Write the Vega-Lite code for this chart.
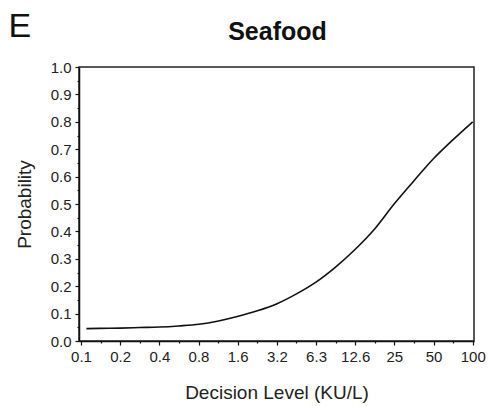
{
  "$schema": "https://vega.github.io/schema/vega-lite/v6.json",
  "autosize": "none",
  "width": 395,
  "height": 274,
  "padding": {"left": 79, "top": 67, "right": 14, "bottom": 65},
  "background": "white",
  "config": {
    "view": {"stroke": "#222", "strokeWidth": 1.5},
    "axis": {
      "grid": false,
      "domainColor": "#111",
      "domainWidth": 1.5,
      "tickColor": "#111",
      "tickWidth": 1.2,
      "labelFont": "Liberation Sans",
      "labelFontSize": 15,
      "labelColor": "#222",
      "titleFont": "Liberation Sans",
      "titleFontSize": 19,
      "titleFontWeight": "normal",
      "titleColor": "#222",
      "labelFlush": false,
      "labelOverlap": false,
      "labelBound": false
    }
  },
  "data": {
    "values": [
      {"level": 0.11, "prob": 0.045},
      {"level": 0.14, "prob": 0.046},
      {"level": 0.2, "prob": 0.047},
      {"level": 0.28, "prob": 0.049},
      {"level": 0.4, "prob": 0.051},
      {"level": 0.56, "prob": 0.055},
      {"level": 0.8, "prob": 0.061},
      {"level": 1.13, "prob": 0.073},
      {"level": 1.6, "prob": 0.09},
      {"level": 2.24, "prob": 0.11},
      {"level": 3.2, "prob": 0.137},
      {"level": 4.47, "prob": 0.172},
      {"level": 6.3, "prob": 0.215},
      {"level": 8.9, "prob": 0.27},
      {"level": 12.6, "prob": 0.335},
      {"level": 17.8, "prob": 0.41},
      {"level": 25, "prob": 0.5},
      {"level": 35.5, "prob": 0.585},
      {"level": 50, "prob": 0.665},
      {"level": 70.8, "prob": 0.735},
      {"level": 100, "prob": 0.8}
    ]
  },
  "layer": [
    {
      "mark": {"type": "line", "color": "#111", "strokeWidth": 1.6, "interpolate": "monotone"},
      "encoding": {
        "x": {
          "field": "level",
          "type": "quantitative",
          "scale": {"type": "log", "domain": [0.0965, 102.3], "nice": false},
          "axis": {
            "orient": "bottom",
            "title": "Decision Level (KU/L)",
            "titlePadding": 19,
            "values": [0.1, 0.1413, 0.1995, 0.2818, 0.3981, 0.5623, 0.7943, 1.122, 1.585, 2.239, 3.162, 4.467, 6.31, 8.913, 12.589, 17.783, 25.119, 35.481, 50.119, 70.795, 100],
            "labelExpr": "round((log(datum.value)/LN10 + 1)/0.15) % 2 == 1 ? '' : (datum.value < 20 ? format(datum.value, '.1f') : format(datum.value, '.0f'))",
            "tickSize": {"condition": {"test": "round((log(datum.value)/LN10 + 1)/0.15) % 2 == 1", "value": 2}, "value": 4},
            "labelPadding": 4
          }
        },
        "y": {
          "field": "prob",
          "type": "quantitative",
          "scale": {"domain": [0, 1], "nice": false},
          "axis": {
            "orient": "left",
            "title": "Probability",
            "titlePadding": 16,
            "values": [0, 0.05, 0.1, 0.15, 0.2, 0.25, 0.3, 0.35, 0.4, 0.45, 0.5, 0.55, 0.6, 0.65, 0.7, 0.75, 0.8, 0.85, 0.9, 0.95, 1.0],
            "labelExpr": "round(datum.value*100) % 10 != 0 ? '' : format(datum.value, '.1f')",
            "tickSize": {"condition": {"test": "round(datum.value*100) % 10 != 0", "value": 2}, "value": 4},
            "labelPadding": 4
          }
        }
      }
    },
    {
      "mark": {"type": "line", "opacity": 0},
      "encoding": {
        "x": {
          "field": "level",
          "type": "quantitative",
          "axis": {
            "orient": "top",
            "title": "Seafood",
            "domain": false,
            "ticks": false,
            "labels": false,
            "titleFont": "Liberation Sans",
            "titleFontSize": 25,
            "titleFontWeight": "bold",
            "titleColor": "#111",
            "titleAnchor": "middle",
            "titleAlign": "center",
            "titleBaseline": "alphabetic",
            "titleX": 198,
            "titleY": -28
          }
        },
        "y": {
          "field": "prob",
          "type": "quantitative",
          "axis": {
            "orient": "right",
            "title": "E",
            "domain": false,
            "ticks": false,
            "labels": false,
            "titleFont": "Liberation Sans",
            "titleFontSize": 34,
            "titleFontWeight": "normal",
            "titleColor": "#111",
            "titleAngle": 0,
            "titleAlign": "left",
            "titleBaseline": "alphabetic",
            "titleX": -466,
            "titleY": -31
          }
        }
      }
    }
  ],
  "resolve": {"axis": {"x": "independent", "y": "independent"}}
}
